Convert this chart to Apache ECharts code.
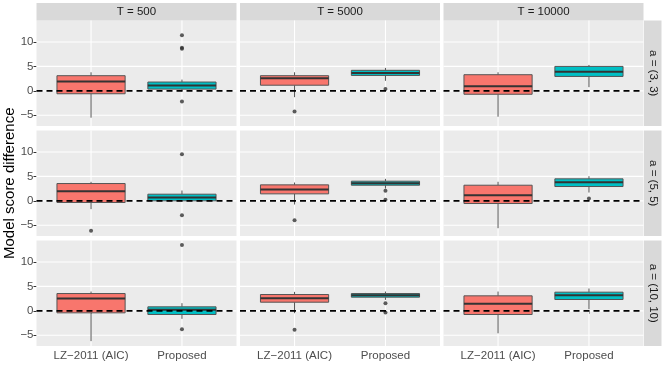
<!DOCTYPE html>
<html><head><meta charset="utf-8">
<script src="https://cdn.jsdelivr.net/npm/echarts@6/dist/echarts.min.js"></script>
<style>html,body{margin:0;padding:0;background:#fff}#c{width:664px;height:380px}</style>
</head><body><div id="c"></div>
<script>
// ---- data ----
const colLabels = ['T = 500', 'T = 5000', 'T = 10000'];
const rowLabels = ['a = (3, 3)', 'a = (5, 5)', 'a = (10, 10)'];
const methods = ['LZ\u22122011 (AIC)', 'Proposed'];
const yTicks = [-5, 0, 5, 10];
const yRange = [-7.2, 14.4];
const refLine = 0;
// [lower whisker, Q1, median, Q3, upper whisker], indexed [row][col]
const lzStats = [
  [[-5.5, -0.6, 1.9, 3.1, 3.8], [-1.3, 1.15, 2.6, 3.1, 3.8], [-5.3, -0.7, 0.95, 3.3, 3.8]],
  [[-1.7, -0.34, 1.98, 3.54, 3.89], [-0.75, 1.43, 2.32, 3.27, 3.75], [-5.6, -0.55, 1.16, 3.2, 3.9]],
  [[-6.2, -0.41, 2.52, 3.54, 3.95], [-0.48, 1.77, 2.59, 3.34, 3.88], [-4.6, -0.75, 1.43, 3.07, 3.95]]
];
const propStats = [
  [[-0.1, 0.35, 1.1, 1.8, 2.3], [2.05, 3.15, 3.65, 4.2, 4.7], [0.75, 2.95, 3.9, 5.0, 5.3]],
  [[-0.1, 0.0, 0.68, 1.36, 2.11], [2.5, 3.2, 3.61, 4.02, 4.5], [1.7, 2.93, 3.82, 4.5, 5.04]],
  [[-1.64, -0.75, 0.2, 0.82, 1.57], [2.25, 2.8, 3.2, 3.54, 3.95], [0.34, 2.32, 3.2, 3.82, 4.57]]
];
const lzOutliers = [
  [[], [-4.25], []],
  [[-6.13], [-4.0], []],
  [[], [-3.89], []]
];
const propOutliers = [
  [[11.4, 8.8, 8.6, -2.2], [0.35], []],
  [[9.54, -2.93], [2.05, 0.2], [0.48]],
  [[13.5, -3.75], [1.57, -0.35], []]
];

// ---- layout / style ----
const FONT = '"Liberation Sans", Arial, sans-serif';
const colLeft = [36.5, 240, 443.5];
const panelW = 200;
const rowTop = [20.5, 130.5, 240.5];
const panelH = 105.5;
const fills = ['#F8766D', '#00BFC4'];

const grids = [], xAxes = [], yAxes = [], series = [], graphics = [];
for (let r = 0; r < 3; r++) {
  for (let c = 0; c < 3; c++) {
    const i = r * 3 + c;
    grids.push({left: colLeft[c], top: rowTop[r], width: panelW, height: panelH,
      show: true, backgroundColor: '#EBEBEB', borderWidth: 0});
    xAxes.push({gridIndex: i, type: 'value', min: 0.4, max: 2.6,
      splitLine: {show: false}, axisLine: {show: false},
      axisTick: {show: r === 2, customValues: [1, 2], length: 3, lineStyle: {color: '#333', width: 1}},
      axisLabel: {show: r === 2, customValues: [1, 2], margin: 4, color: '#4D4D4D', fontSize: 11.5,
        fontFamily: FONT, formatter: v => methods[Math.round(v) - 1]}});
    yAxes.push({gridIndex: i, type: 'value', min: yRange[0], max: yRange[1],
      splitLine: {show: false}, axisLine: {show: false},
      axisTick: {show: c === 0, customValues: yTicks, length: 3, lineStyle: {color: '#333', width: 1}},
      axisLabel: {show: c === 0, customValues: yTicks, margin: 3, color: '#4D4D4D', fontSize: 11.5,
        fontFamily: FONT, formatter: v => String(v).replace('-', '\u2212')}});
    // grid lines
    series.push({type: 'custom', xAxisIndex: i, yAxisIndex: i, silent: true, z: 1, clip: false,
      data: [[0]],
      renderItem: (params, api) => {
        const ch = [];
        yTicks.forEach(t => {
          const a = api.coord([0.4, t]), b = api.coord([2.6, t]);
          ch.push({type: 'line', shape: {x1: a[0], y1: a[1], x2: b[0], y2: b[1]},
            style: {stroke: '#FFFFFF', lineWidth: 1.1}});
        });
        [1, 2].forEach(x => {
          const a = api.coord([x, yRange[0]]), b = api.coord([x, yRange[1]]);
          ch.push({type: 'line', shape: {x1: a[0], y1: a[1], x2: b[0], y2: b[1]},
            style: {stroke: '#FFFFFF', lineWidth: 1.1}});
        });
        return {type: 'group', children: ch};
      }});
    // boxes
    series.push({type: 'custom', xAxisIndex: i, yAxisIndex: i, z: 2, clip: true,
      encode: {x: 0, y: [1, 2, 3, 4, 5]},
      data: [[1].concat(lzStats[r][c]), [2].concat(propStats[r][c])],
      renderItem: (params, api) => {
        const x = api.value(0);
        const lo = api.coord([x, api.value(1)]), q1 = api.coord([x, api.value(2)]),
              md = api.coord([x, api.value(3)]), q3 = api.coord([x, api.value(4)]),
              hi = api.coord([x, api.value(5)]);
        const w = api.size([0.75, 0])[0];
        const cx = lo[0];
        const fill = fills[params.dataIndex];
        return {type: 'group', children: [
          {type: 'line', shape: {x1: cx, y1: lo[1], x2: cx, y2: q1[1]}, style: {stroke: '#555555', lineWidth: 1}},
          {type: 'line', shape: {x1: cx, y1: q3[1], x2: cx, y2: hi[1]}, style: {stroke: '#555555', lineWidth: 1}},
          {type: 'rect', shape: {x: cx - w / 2, y: q3[1], width: w, height: q1[1] - q3[1]},
            style: {fill: fill, stroke: '#555555', lineWidth: 1}},
          {type: 'line', shape: {x1: cx - w / 2, y1: md[1], x2: cx + w / 2, y2: md[1]},
            style: {stroke: '#333333', lineWidth: 2}}
        ]};
      }});
    // outliers
    const outs = lzOutliers[r][c].map(v => [1, v]).concat(propOutliers[r][c].map(v => [2, v]));
    series.push({type: 'scatter', xAxisIndex: i, yAxisIndex: i, z: 3, silent: true,
      symbolSize: 4, itemStyle: {color: '#333333'}, data: outs});
    // zero reference line
    series.push({type: 'custom', xAxisIndex: i, yAxisIndex: i, silent: true, z: 4, clip: false,
      data: [[refLine]],
      renderItem: (params, api) => {
        const a = api.coord([0.4, api.value(0)]), b = api.coord([2.6, api.value(0)]);
        return {type: 'line', shape: {x1: a[0], y1: a[1], x2: b[0], y2: b[1]},
          style: {stroke: '#000000', lineWidth: 1.7, lineDash: [6, 4]}};
      }});
  }
}
// strips
for (let c = 0; c < 3; c++) {
  graphics.push({type: 'rect', x: colLeft[c], y: 3, shape: {width: panelW, height: 17.5},
    style: {fill: '#D9D9D9'}});
  graphics.push({type: 'text', x: colLeft[c] + panelW / 2, y: 11.75,
    style: {text: colLabels[c], textAlign: 'center', textVerticalAlign: 'middle',
      fontSize: 11.5, fontFamily: FONT, fill: '#1A1A1A'}});
}
for (let r = 0; r < 3; r++) {
  graphics.push({type: 'rect', x: 644, y: rowTop[r], shape: {width: 17.5, height: panelH},
    style: {fill: '#D9D9D9'}});
  graphics.push({type: 'text', x: 652.75, y: rowTop[r] + panelH / 2, rotation: -Math.PI / 2,
    style: {text: rowLabels[r], textAlign: 'center', textVerticalAlign: 'middle',
      fontSize: 11.5, fontFamily: FONT, fill: '#1A1A1A'}});
}
graphics.push({type: 'text', x: 10, y: (rowTop[0] + rowTop[2] + panelH) / 2, rotation: Math.PI / 2,
  style: {text: 'Model score difference', textAlign: 'center', textVerticalAlign: 'middle',
    fontSize: 15, fontFamily: FONT, fill: '#000000'}});

const chart = echarts.init(document.getElementById('c'), null, {renderer: 'canvas'});
chart.setOption({
  animation: false,
  backgroundColor: '#FFFFFF',
  grid: grids, xAxis: xAxes, yAxis: yAxes, series: series, graphic: graphics
});
</script></body></html>
